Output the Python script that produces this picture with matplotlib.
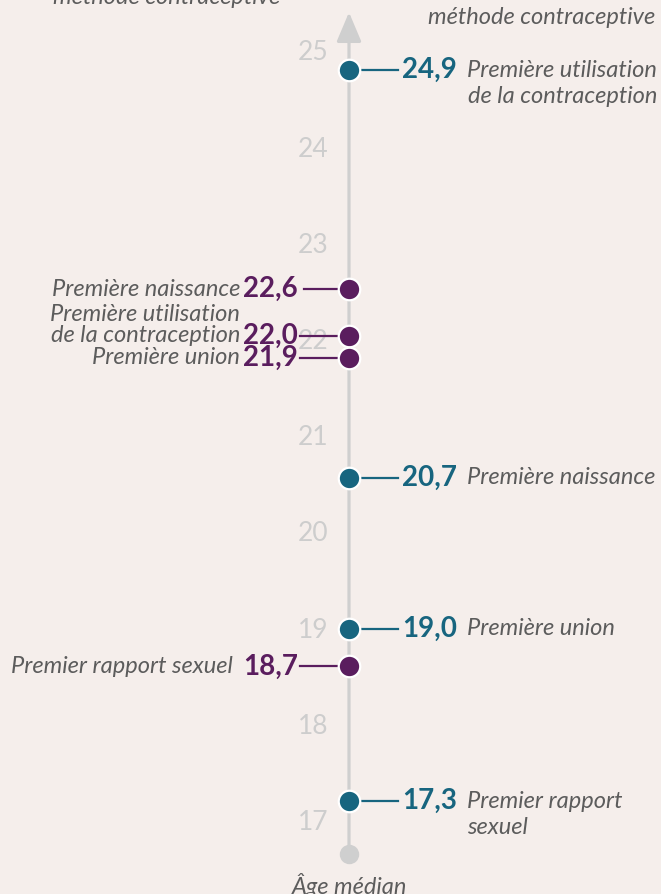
import numpy as np
import matplotlib.pyplot as plt

# données : âge médian
ages_droite = [24.9, 20.7, 19.0, 17.3]
libelles_droite = [["Première utilisation", "de la contraception"], ["Première naissance"],
                   ["Première union"], ["Premier rapport", "sexuel"]]
ages_gauche = [22.6, 22.0, 21.9, 18.7]
libelles_gauche = [["Première naissance"], ["Première utilisation", "de la contraception"],
                   ["Première union"], ["Premier rapport sexuel"]]
graduations = [17, 18, 19, 20, 21, 22, 23, 24, 25]

# petits décalages d'affichage (comme sur l'original)
decal_droite = [0.0, -0.04, 0.09, 0.0]
decal_gauche = [0.02, 0.14, 0.01, 0.0]

FOND = "#f5eeeb"
BLEU = "#17657f"
VIOLET = "#5a1d5e"
GRIS_TXT = "#5c5c5c"
GRIS_AXE = "#cfcfcf"
X0 = 349
PX = 1 / 96.2   # un pixel en années
T_LIB = 17
T_NUM = 20

plt.rcParams['font.family'] = ['Lato', 'DejaVu Sans']

fig = plt.figure(figsize=(6.61, 8.94), dpi=100, facecolor=FOND)
ax = fig.add_axes([0, 0, 1, 1])
ax.set_facecolor(FOND)
ax.set_xlim(0, 661)
ax.set_ylim(16.334, 25.628)
ax.axis("off")

# axe vertical avec flèche
ax.annotate("", xy=(X0, 25.50), xytext=(X0, 16.75),
            arrowprops=dict(arrowstyle="-|>,head_length=0.9,head_width=0.38",
                            color=GRIS_AXE, lw=2.3, shrinkA=0, shrinkB=0,
                            mutation_scale=20), zorder=1)
ax.plot([X0], [16.75], "o", ms=14, color=GRIS_AXE, mec="none", zorder=2)

for g in graduations:
    ax.text(313, g, str(g), ha="center", va="baseline", fontsize=19,
            color="#cdcdcd", zorder=1)

# côté droit (bleu)
for i, (age, lignes, d) in enumerate(zip(ages_droite, libelles_droite, decal_droite)):
    y = age + d
    ax.plot([X0, 398], [y, y], color=BLEU, lw=1.6, zorder=3)
    ax.plot([X0], [y], "o", ms=15.5, color=BLEU, mec="white", mew=1.6, zorder=4)
    ax.text(402, y, f"{age:.1f}".replace(".", ","), ha="left", va="center",
            fontsize=T_NUM, fontweight="bold", color=BLEU)
    for k, ligne in enumerate(lignes):
        yl = y - k * 26.5 * PX
        if i == 0:
            ax.text(657, yl, ligne, ha="right", va="center", fontsize=T_LIB,
                    style="italic", color=GRIS_TXT)
        else:
            ax.text(467, yl, ligne, ha="left", va="center", fontsize=T_LIB,
                    style="italic", color=GRIS_TXT)

# côté gauche (violet)
for i, (age, lignes, d) in enumerate(zip(ages_gauche, libelles_gauche, decal_gauche)):
    y = age + d
    x_deb = 304 if i == 0 else 300
    ax.plot([x_deb, X0], [y, y], color=VIOLET, lw=1.6, zorder=3)
    ax.plot([X0], [y], "o", ms=15.5, color=VIOLET, mec="white", mew=1.6, zorder=4)
    ax.text(298, y, f"{age:.1f}".replace(".", ","), ha="right", va="center",
            fontsize=T_NUM, fontweight="bold", color=VIOLET)
    x_lib = 233 if i == 3 else 240
    n = len(lignes)
    for k, ligne in enumerate(lignes):
        yl = y + (n - 1 - k) * 21 * PX
        ax.text(x_lib, yl, ligne, ha="right", va="center", fontsize=T_LIB,
                style="italic", color=GRIS_TXT)

# titres (coupés en haut) et légende de l'axe
ax.text(655, 25.628 - 18 * PX, "méthode contraceptive", ha="right", va="center",
        fontsize=T_LIB, style="italic", color=GRIS_TXT)
ax.text(280, 25.628 + 3 * PX, "méthode contraceptive", ha="right", va="center",
        fontsize=T_LIB, style="italic", color=GRIS_TXT, clip_on=False)
ax.text(X0, 16.334 + 9 * PX, "Âge médian", ha="center", va="center", fontsize=T_LIB,
        style="italic", color=GRIS_TXT)

fig.savefig("out.png", dpi=100, facecolor=FOND)
